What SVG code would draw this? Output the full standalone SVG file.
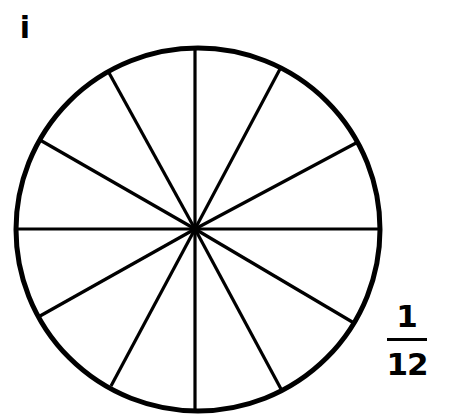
<svg xmlns="http://www.w3.org/2000/svg" width="449" height="414" viewBox="0 0 449 414">
<style>
.spoke{stroke:#000;stroke-width:3.2;stroke-linecap:butt}
.rim{fill:none;stroke:#000;stroke-width:5}
.lbl{font-family:"DejaVu Sans","Liberation Sans",sans-serif;font-weight:bold;fill:#000}
</style>
<rect width="449" height="414" fill="#fff"/>
<g id="connectors">
<line class="spoke" x1="195" y1="229" x2="195" y2="48"/>
<line class="spoke" x1="195" y1="229" x2="195" y2="410"/>
<line class="spoke" x1="195" y1="229" x2="17" y2="229"/>
<line class="spoke" x1="195" y1="229" x2="378" y2="229"/>
<line class="spoke" x1="195" y1="229" x2="108" y2="71"/>
<line class="spoke" x1="195" y1="229" x2="280" y2="69"/>
<line class="spoke" x1="195" y1="229" x2="40" y2="140"/>
<line class="spoke" x1="195" y1="229" x2="356" y2="143"/>
<line class="spoke" x1="195" y1="229" x2="40" y2="316"/>
<line class="spoke" x1="195" y1="229" x2="354" y2="323"/>
<line class="spoke" x1="195" y1="229" x2="111" y2="386"/>
<line class="spoke" x1="195" y1="229" x2="281" y2="389"/>
</g>
<g id="circle">
<ellipse class="rim" cx="198" cy="229.5" rx="182" ry="181.5"/>
<circle cx="195" cy="229" r="4" fill="#000"/>
</g>
<g id="label-i">
<text class="lbl" x="25" y="38" font-size="30" text-anchor="middle">i</text>
</g>
<g id="fraction">
<text class="lbl" x="407" y="327" font-size="31" text-anchor="middle">1</text>
<line x1="387" y1="339.5" x2="427" y2="339.5" stroke="#000" stroke-width="3"/>
<text class="lbl" x="407" y="375" font-size="31" text-anchor="middle" letter-spacing="-1">12</text>
</g>
</svg>
